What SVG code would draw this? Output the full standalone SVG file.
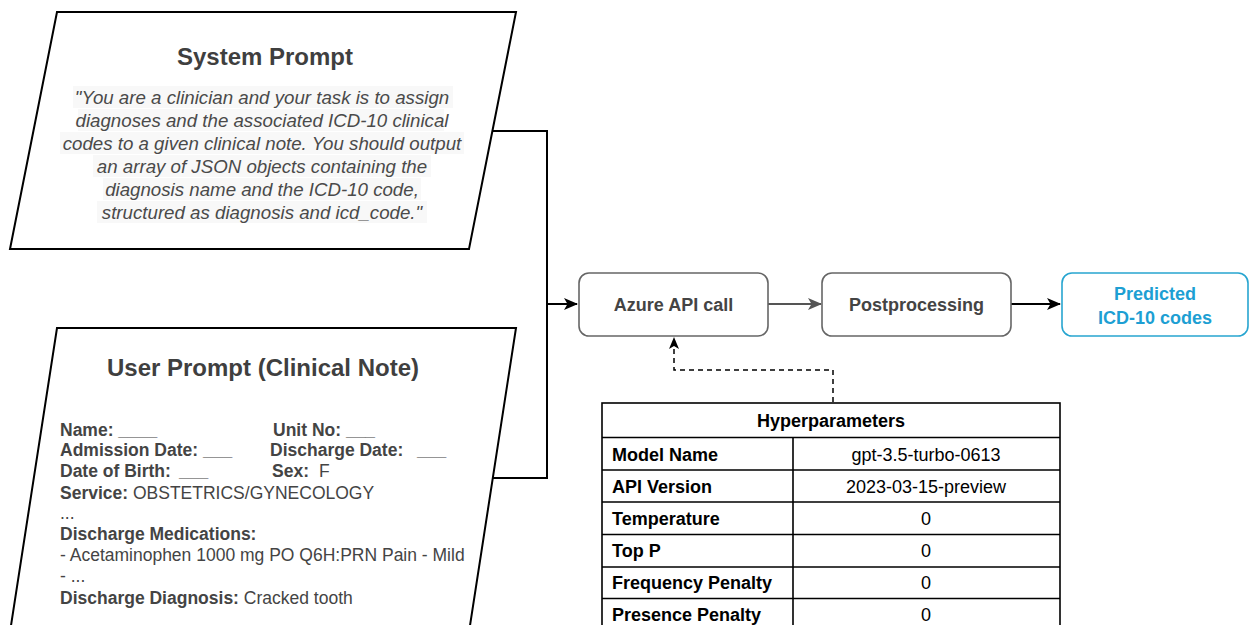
<svg xmlns="http://www.w3.org/2000/svg" width="1250" height="625" viewBox="0 0 1250 625">
<defs>
<style>
text{font-family:"Liberation Sans",Arial,Helvetica,sans-serif}
.title{font-size:24px;font-weight:bold;fill:#3f3f3f;text-anchor:middle}
.sys{font-size:18.7px;font-style:italic;fill:#4a4a4a;text-anchor:middle}
.hl{fill:#f8f8f8}
.note{font-size:17.5px;fill:#444}
.b{font-weight:bold}
.para{fill:#fff;stroke:#000;stroke-width:2}
.box{fill:#fff;stroke:#666;stroke-width:1.6}
.boxt{font-size:18px;font-weight:bold;fill:#444;text-anchor:middle}
.pred{fill:#fff;stroke:#27a5d0;stroke-width:1.6}
.predt{font-size:18px;font-weight:bold;fill:#1d9fd3;text-anchor:middle}
.tbl{fill:none;stroke:#000;stroke-width:1.6}
.tl{font-size:18px;font-weight:bold;fill:#000}
.tv{font-size:18px;fill:#000;text-anchor:middle}
.conn{fill:none;stroke:#000;stroke-width:2}
.dash{fill:none;stroke:#000;stroke-width:1.5;stroke-dasharray:5 4}
</style>
<marker id="arr" viewBox="0 0 14 12" refX="13" refY="6" markerWidth="14" markerHeight="12" markerUnits="userSpaceOnUse" orient="auto">
<path d="M0,0 L14,6 L0,12 L3.5,6 z" fill="#000"/>
</marker>
<marker id="arrg" viewBox="0 0 14 12" refX="13" refY="6" markerWidth="14" markerHeight="12" markerUnits="userSpaceOnUse" orient="auto">
<path d="M0,0 L14,6 L0,12 L3.5,6 z" fill="#555"/>
</marker>
<marker id="arrs" viewBox="0 0 12 10" refX="11" refY="5" markerWidth="12" markerHeight="10" markerUnits="userSpaceOnUse" orient="auto">
<path d="M0,0 L12,5 L0,10 L3,5 z" fill="#000"/>
</marker>
</defs>
<rect width="1250" height="625" fill="#fff"/>

<g id="connectors">
<path class="conn" d="M492,131 H547 V304 H577" marker-end="url(#arr)"/>
<path class="conn" d="M493,478 H547 V304"/>
<path d="M768,304 H821" fill="none" stroke="#555" stroke-width="2" marker-end="url(#arrg)"/>
<path class="conn" d="M1011,304 H1060" marker-end="url(#arr)"/>
<path class="dash" d="M833,402 V370 H674 V338" marker-end="url(#arrs)"/>
</g>

<g id="system-prompt">
<polygon class="para" points="57,12 516,12 469,249 10,249"/>
<text class="title" x="265" y="65">System Prompt</text>
<rect class="hl" x="73" y="86" width="380" height="22"/>
<rect class="hl" x="78" y="109" width="366" height="22"/>
<rect class="hl" x="60" y="132" width="404" height="22"/>
<rect class="hl" x="93" y="155" width="338" height="22"/>
<rect class="hl" x="103" y="178" width="318" height="22"/>
<rect class="hl" x="97" y="201" width="330" height="22"/>
<text class="sys" x="262" y="103.5">"You are a clinician and your task is to assign</text>
<text class="sys" x="262" y="126.5">diagnoses and the associated ICD-10 clinical</text>
<text class="sys" x="262" y="149.5">codes to a given clinical note. You should output</text>
<text class="sys" x="262" y="172.5">an array of JSON objects containing the</text>
<text class="sys" x="262" y="195.5">diagnosis name and the ICD-10 code,</text>
<text class="sys" x="262" y="218.5">structured as diagnosis and icd_code."</text>
</g>

<g id="user-prompt">
<polygon class="para" points="57,328 516,328 469,632 10,632"/>
<text class="title" x="263" y="376">User Prompt (Clinical Note)</text>
<text class="note b" x="60" y="435.5">Name: ____</text>
<text class="note b" x="273" y="435.5">Unit No: ___</text>
<text class="note b" x="60" y="456">Admission Date: ___</text>
<text class="note b" x="270" y="456">Discharge Date: <tspan x="417">___</tspan></text>
<text class="note b" x="60" y="477">Date of Birth: <tspan x="179">___</tspan></text>
<text class="note" x="272" y="477"><tspan class="b">Sex:</tspan><tspan x="319">F</tspan></text>
<text class="note" x="60" y="498.5"><tspan class="b">Service:</tspan> OBSTETRICS/GYNECOLOGY</text>
<text class="note" x="60" y="518.5">...</text>
<text class="note b" x="60" y="540">Discharge Medications:</text>
<text class="note" x="60" y="561">- Acetaminophen 1000 mg PO Q6H:PRN Pain - Mild</text>
<text class="note" x="60" y="582">- ...</text>
<text class="note" x="60" y="604"><tspan class="b">Discharge Diagnosis:</tspan> Cracked tooth</text>
</g>

<g id="azure-api-call">
<rect class="box" x="579" y="273" width="189" height="63" rx="10"/>
<text class="boxt" x="673.5" y="310.5">Azure API call</text>
</g>

<g id="postprocessing">
<rect class="box" x="822" y="273" width="189" height="63" rx="10"/>
<text class="boxt" x="916.5" y="310.5">Postprocessing</text>
</g>

<g id="predicted-codes">
<rect class="pred" x="1062" y="273" width="186" height="63" rx="10"/>
<text class="predt" x="1155" y="299.5">Predicted</text>
<text class="predt" x="1155" y="323.5">ICD-10 codes</text>
</g>

<g id="hyperparameters">
<rect class="tbl" x="602" y="403" width="458" height="230"/>
<path class="tbl" d="M602,437.5 H1060 M602,470 H1060 M602,502 H1060 M602,534.5 H1060 M602,567 H1060 M602,598.5 H1060 M793,437.5 V633"/>
<text class="tl" x="831" y="427" text-anchor="middle">Hyperparameters</text>
<text class="tl" x="612" y="460.5">Model Name</text>
<text class="tv" x="926" y="460.5">gpt-3.5-turbo-0613</text>
<text class="tl" x="612" y="492.5">API Version</text>
<text class="tv" x="926" y="492.5">2023-03-15-preview</text>
<text class="tl" x="612" y="524.5">Temperature</text>
<text class="tv" x="926" y="524.5">0</text>
<text class="tl" x="612" y="557">Top P</text>
<text class="tv" x="926" y="557">0</text>
<text class="tl" x="612" y="589">Frequency Penalty</text>
<text class="tv" x="926" y="589">0</text>
<text class="tl" x="612" y="620.5">Presence Penalty</text>
<text class="tv" x="926" y="620.5">0</text>
</g>
</svg>
